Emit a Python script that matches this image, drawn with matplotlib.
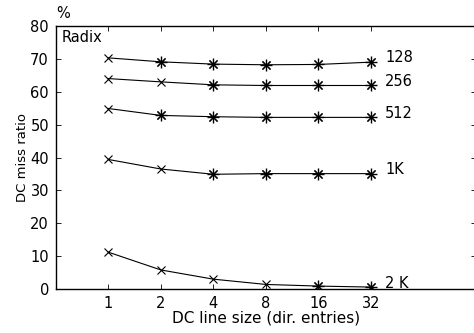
import matplotlib
matplotlib.use("Agg")
import matplotlib.pyplot as plt
import numpy as np

plt.rcParams['font.family'] = ['DejaVu Sans']

x_labels = ["1", "2", "4", "8", "16", "32"]
series_names = ["128", "256", "512", "1K", "2 K"]
r128 = [70.3, 69.1, 68.4, 68.2, 68.3, 69.0]
r256 = [64.0, 63.0, 62.1, 61.9, 61.9, 61.9]
r512 = [54.9, 52.8, 52.4, 52.2, 52.2, 52.2]
r1k = [39.4, 36.5, 34.9, 35.1, 35.1, 35.1]
r2k = [11.2, 5.8, 3.0, 1.4, 0.9, 0.6]
series = [r128, r256, r512, r1k, r2k]
# which points are drawn with the asterisk marker (others plain 'x')
starred = [
    [0, 1, 1, 1, 1, 1],
    [0, 0, 1, 1, 1, 1],
    [0, 1, 1, 1, 1, 1],
    [0, 0, 1, 1, 1, 1],
    [0, 0, 0, 0, 1, 1],
]

fs = 10.5

fig = plt.figure(figsize=(4.74, 3.33), dpi=100)
ax = fig.add_axes([0.118, 0.132, 0.886, 0.790])

xi = np.arange(1, len(x_labels) + 1)
for vals, st, name in zip(series, starred, series_names):
    ax.plot(xi, vals, color='black', lw=0.8, marker='x', ms=6, mew=0.8)
    sx = [x for x, s in zip(xi, st) if s]
    sy = [v for v, s in zip(vals, st) if s]
    ax.plot(sx, sy, ls='none', color='black', marker='+', ms=8, mew=1.0)
    ax.plot(sx, sy, ls='none', color='black', marker='x', ms=6, mew=1.0)
    ax.text(6.27, vals[-1] + (1.3 if name != "2 K" else 1.0), name,
            fontsize=fs, ha='left', va='center')

ax.set_xlim(0, 8)
ax.set_ylim(0, 80)
ax.set_xticks(xi)
ax.set_xticklabels(x_labels)
ax.set_yticks(np.arange(0, 81, 10))
ax.tick_params(direction='in', length=3.5, width=0.6, labelsize=fs,
               top=True, right=True, pad=5)
for s in ax.spines.values():
    s.set_linewidth(1.0)
ax.spines['right'].set_visible(False)
ax.set_xlabel("DC line size (dir. entries)", fontsize=fs + 0.5, labelpad=0)
ax.set_ylabel("DC miss ratio", fontsize=9.5, labelpad=1)
ax.text(0.1, 76.5, "Radix", fontsize=fs, ha='left', va='center')
ax.text(0.0, 1.018, "%", transform=ax.transAxes, fontsize=fs,
        ha='left', va='bottom')

fig.savefig("out.png", dpi=100)
